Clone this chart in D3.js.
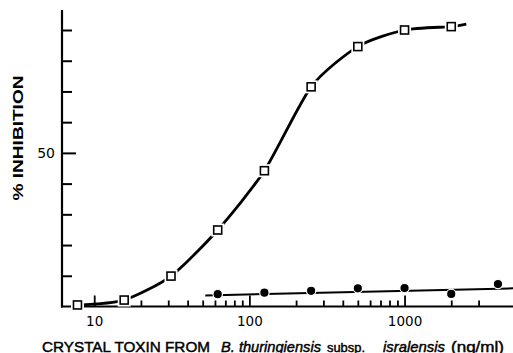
<!DOCTYPE html>
<html>
<head>
<meta charset="utf-8">
<script src="https://cdn.jsdelivr.net/npm/d3@7"></script>
<style>
  html, body { margin: 0; padding: 0; background: #fff; }
  svg { display: block; }
</style>
</head>
<body>
<svg id="chart" width="513" height="353"></svg>
<script>
// ---- data ----
const squareDose = [7.8, 15.6, 31.25, 62.5, 125, 250, 500, 1000, 2000];
const squarePct  = [0.5, 2.1, 9.9, 24.9, 44.2, 71.5, 84.6, 90.0, 91.1];
const squareFitTailDose = [2500];
const squareFitTailPct  = [91.9];

const circleDose = [62.5, 125, 250, 500, 1000, 2000, 4000];
const circlePct  = [4.0, 4.5, 5.1, 5.9, 6.0, 4.1, 7.3];
const circleFitDose = [52, 5000];
const circleFitPct  = [3.6, 5.9];

const xMajorTicks = [10, 100, 1000];
const xMinorTicks = [20, 30, 40, 50, 60, 70, 80, 90, 200, 300, 400, 500, 600, 700, 800, 900, 2000, 3000];
const yMajorTicks = [50];
const yMinorTicks = [10, 20, 30, 40, 60, 70, 80, 90];
const xDomain = [6.2, 5000];
const yAxisTop = 96.5;

const yLabel = "% INHIBITION";
const xTitleParts = [
  {text: "CRYSTAL TOXIN FROM", italic: false},
  {text: "B. thuringiensis", italic: true},
  {text: "subsp.", italic: false},
  {text: "isralensis", italic: true},
  {text: "(ng/ml)", italic: false}
];

// ---- layout ----
const svg = d3.select("#chart");
const x = d3.scaleLog().domain(xDomain).range([62, 513]);
const y = d3.scaleLinear().domain([0, 90]).range([306.5, 30]);
const y0 = y(0);

// axes lines
svg.append("line").attr("x1", x(xDomain[0])).attr("x2", x(xDomain[0]))
  .attr("y1", y0 + 1).attr("y2", y(yAxisTop))
  .attr("stroke", "#000").attr("stroke-width", 2.2);
svg.append("line").attr("x1", x(xDomain[0]) - 1).attr("x2", x(xDomain[1]))
  .attr("y1", y0).attr("y2", y0)
  .attr("stroke", "#000").attr("stroke-width", 2.2);

// x ticks
const gxMinor = svg.append("g").attr("transform", `translate(0,${y0})`)
  .call(d3.axisBottom(x).tickValues(xMinorTicks).tickSize(-6).tickFormat(""));
const gxMajor = svg.append("g").attr("transform", `translate(0,${y0})`)
  .call(d3.axisBottom(x).tickValues(xMajorTicks).tickSize(-11).tickPadding(9.5)
    .tickFormat(d3.format("d")));
[gxMinor, gxMajor].forEach(g => {
  g.select(".domain").remove();
  g.selectAll(".tick line").attr("stroke", "#000").attr("stroke-width", 1.8);
});
gxMajor.selectAll(".tick text")
  .attr("font-family", "DejaVu Sans, sans-serif").attr("font-size", 13.5)
  .attr("fill", "#000");

// y ticks
const gyMinor = svg.append("g").attr("transform", `translate(${x(xDomain[0])},0)`)
  .call(d3.axisLeft(y).tickValues(yMinorTicks).tickSize(-10).tickFormat(""));
const gyMajor = svg.append("g").attr("transform", `translate(${x(xDomain[0])},0)`)
  .call(d3.axisLeft(y).tickValues(yMajorTicks).tickSize(-14).tickPadding(7)
    .tickFormat(d3.format("d")));
[gyMinor, gyMajor].forEach(g => {
  g.select(".domain").remove();
  g.selectAll(".tick line").attr("stroke", "#000").attr("stroke-width", 2);
});
gyMajor.selectAll(".tick text")
  .attr("font-family", "DejaVu Sans, sans-serif").attr("font-size", 14)
  .attr("fill", "#000").attr("x", -7);

// squares fitted curve
const sqCurvePts = squareDose.map((d, i) => [d, squarePct[i]])
  .concat(squareFitTailDose.map((d, i) => [d, squareFitTailPct[i]]));
svg.append("path")
  .attr("d", d3.line().x(d => x(d[0])).y(d => y(d[1])).curve(d3.curveCardinal.tension(0.3))(sqCurvePts))
  .attr("fill", "none").attr("stroke", "#000").attr("stroke-width", 2.8);

// circles fitted line
const cfPts = circleFitDose.map((d, i) => [d, circleFitPct[i]]);
svg.append("path")
  .attr("d", d3.line().x(d => x(d[0])).y(d => y(d[1]))(cfPts))
  .attr("fill", "none").attr("stroke", "#000").attr("stroke-width", 2);

// square markers (with white halo)
const sq = squareDose.map((d, i) => [d, squarePct[i]]);
svg.append("g").selectAll("rect.halo").data(sq).join("rect")
  .attr("x", d => x(d[0]) - 6.5).attr("y", d => y(d[1]) - 6.5)
  .attr("width", 13).attr("height", 13).attr("fill", "#fff");
svg.append("g").selectAll("rect.m").data(sq).join("rect")
  .attr("x", d => x(d[0]) - 4).attr("y", d => y(d[1]) - 4)
  .attr("width", 8).attr("height", 8)
  .attr("fill", "#fff").attr("stroke", "#000").attr("stroke-width", 1.6);

// circle markers
const cc = circleDose.map((d, i) => [d, circlePct[i]]);
svg.append("g").selectAll("circle").data(cc).join("circle")
  .attr("cx", d => x(d[0])).attr("cy", d => y(d[1])).attr("r", 4.7)
  .attr("fill", "#000").attr("stroke", "#fff").attr("stroke-width", 1.2);

// y-axis label
svg.append("text")
  .attr("transform", "translate(23,138) rotate(-90)")
  .attr("text-anchor", "middle")
  .attr("font-family", "Liberation Sans, Arial, sans-serif")
  .attr("font-weight", "bold").attr("font-size", 15.5)
  .attr("textLength", 125).attr("lengthAdjust", "spacingAndGlyphs")
  .text(yLabel);

// x-axis title
const titleX = [42, 221, 327, 383, 451];
const titleLen = [168, 100, 38, 62, 53];
const titleSize = [15, 14.6, 13, 15, 15];
xTitleParts.forEach((p, i) => {
  svg.append("text")
    .attr("x", titleX[i]).attr("y", 351.5)
    .attr("font-family", "Liberation Sans, Arial, sans-serif")
    .attr("font-size", titleSize[i])
    .attr("font-style", p.italic ? "italic" : "normal")
    .attr("stroke", "#000").attr("stroke-width", 0.45)
    .attr("textLength", titleLen[i]).attr("lengthAdjust", "spacingAndGlyphs")
    .text(p.text);
});
</script>
</body>
</html>
